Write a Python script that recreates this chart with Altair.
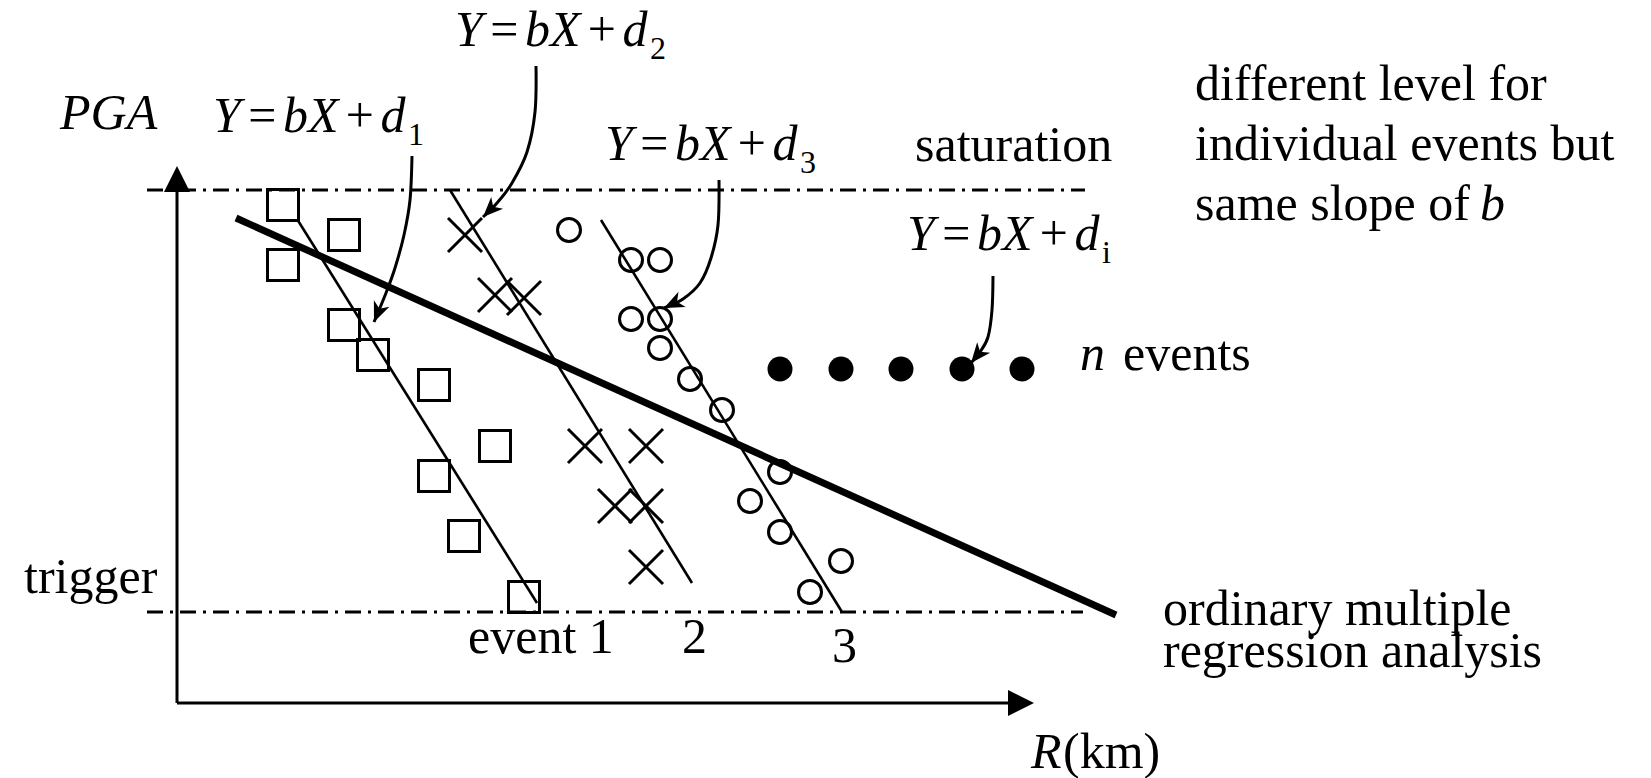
import math
import altair as alt
import pandas as pd

# Drawing frame of the schematic (x grows to the right, y grows downward)
FRAME_W, FRAME_H = 1651, 778

# Event 1 records (squares)
EV1_X = [283, 344, 283, 344, 373, 434, 495, 434, 464, 524]
EV1_Y = [205, 235, 265, 325, 355, 385, 446, 476, 536, 597]
# Event 2 records (crosses)
EV2_X = [465, 495, 524, 585, 646, 615, 646, 646]
EV2_Y = [235, 295, 298, 446, 446, 506, 506, 567]
# Event 3 records (circles)
EV3_X = [569, 631, 660, 631, 660, 660, 690, 722, 780, 750, 780, 841, 810]
EV3_Y = [230, 260, 260, 319, 319, 348, 379, 410, 472, 501, 532, 561, 592]
# Further events (filled dots)
MORE_X = [780, 841, 901, 962, 1022]
MORE_Y = [369, 369, 369, 369, 369]

# Per-event fits with a common slope b
FIT_X0 = [297, 450, 601]
FIT_Y0 = [219, 190, 220]
FIT_X1 = [537, 692, 842]
FIT_Y1 = [603, 583, 612]
# Ordinary multiple regression line
REG_X = [236, 1116]
REG_Y = [218, 615]

# Saturation and trigger levels
LEVEL_NAMES = ["saturation", "trigger"]
LEVEL_Y = [190, 612]
LEVEL_X0 = [147, 147]
LEVEL_X1 = [1085, 1083]

# Axes (origin and arrow tips)
ORIGIN = (177, 703)
Y_TIP = 166
X_TIP = 1034

# Curved pointers from the equations to their data
POINTER_D1 = [(412, 156), (410, 200), (404, 235), (395, 268), (386, 293), (374, 322)]
POINTER_D2 = [(536, 66), (535, 112), (527, 152), (512, 183), (497, 203), (483, 217)]
POINTER_D3 = [(719, 180), (718, 225), (711, 258), (700, 283), (683, 299), (664, 308)]
POINTER_DI = [(993, 276), (992, 310), (988, 337), (980, 352), (971, 363)]

EQUATION = "Y\u200a=\u200abX\u200a+\u200ad"
EQ_X = [213, 455, 605, 907]
EQ_Y = [132, 46, 160, 250]
EQ_SUB = ["1", "2", "3", "i"]
SUB_DX = 195
SUB_DY = 13

UPRIGHT_TEXT = ["saturation", "different level for", "individual events but",
                "same slope of", "events", "trigger", "event 1", "2", "3",
                "ordinary multiple", "regression analysis", "(km)"]
UPRIGHT_X = [915, 1195, 1195, 1195, 1123, 24, 468, 682, 832, 1163, 1163, 1063]
UPRIGHT_Y = [161, 100, 160, 220, 370, 593, 653, 653, 662, 625, 667, 768]

ITALIC_TEXT = ["PGA", "n", "b", "R"]
ITALIC_X = [60, 1080, 1480, 1031]
ITALIC_Y = [129, 370, 220, 768]

FONT = "Liberation Serif"

xs = alt.Scale(domain=[0, FRAME_W], nice=False, zero=False)
ys = alt.Scale(domain=[FRAME_H, 0], nice=False, zero=False)


def pos(xf="x", yf="y"):
    return dict(x=alt.X(f"{xf}:Q", scale=xs, axis=None),
                y=alt.Y(f"{yf}:Q", scale=ys, axis=None))


def seg():
    return dict(x=alt.X("x:Q", scale=xs, axis=None),
                y=alt.Y("y:Q", scale=ys, axis=None),
                x2=alt.X2("x2:Q"), y2=alt.Y2("y2:Q"))


# straight segments
fits = pd.DataFrame({"x": FIT_X0, "y": FIT_Y0, "x2": FIT_X1, "y2": FIT_Y1})
reg = pd.DataFrame({"x": [REG_X[0]], "y": [REG_Y[0]], "x2": [REG_X[1]], "y2": [REG_Y[1]]})
levels = pd.DataFrame({"name": LEVEL_NAMES, "x": LEVEL_X0, "x2": LEVEL_X1,
                       "y": LEVEL_Y, "y2": LEVEL_Y})
axes = pd.DataFrame({
    "x": [ORIGIN[0], ORIGIN[0]],
    "y": [ORIGIN[1], ORIGIN[1]],
    "x2": [ORIGIN[0], X_TIP - 12],
    "y2": [Y_TIP + 12, ORIGIN[1]],
})

fit_layer = alt.Chart(fits).mark_rule(color="black", strokeWidth=2.6).encode(**seg())
reg_layer = alt.Chart(reg).mark_rule(color="black", strokeWidth=7).encode(**seg())
level_layer = alt.Chart(levels).mark_rule(
    color="black", strokeWidth=3, strokeDash=[16, 7, 3, 7]
).encode(**seg())
axis_layer = alt.Chart(axes).mark_rule(color="black", strokeWidth=3).encode(**seg())

axis_heads = pd.DataFrame({"x": [ORIGIN[0], X_TIP], "y": [Y_TIP, ORIGIN[1]], "angle": [0, 90]})
axis_head_layer = alt.Chart(axis_heads).mark_point(
    shape="M0,0L-0.5,1L0.5,1Z", filled=True, color="black", opacity=1, size=2704
).encode(**pos(), angle=alt.Angle("angle:Q", scale=None))

# curved pointers
rows, heads = [], []
for name, pts in [("d1", POINTER_D1), ("d2", POINTER_D2), ("d3", POINTER_D3), ("di", POINTER_DI)]:
    for i, (px, py) in enumerate(pts):
        rows.append({"pointer": name, "order": i, "x": px, "y": py})
    (ax, ay), (bx, by) = pts[-2], pts[-1]
    ang = math.degrees(math.atan2(bx - ax, -(by - ay))) % 360
    heads.append({"x": bx, "y": by, "angle": ang})
pointers = pd.DataFrame(rows)
pointer_heads = pd.DataFrame(heads)

pointer_layer = alt.Chart(pointers).mark_line(
    color="black", strokeWidth=3, interpolate="cardinal"
).encode(**pos(), detail="pointer:N", order="order:Q")
pointer_head_layer = alt.Chart(pointer_heads).mark_point(
    shape="M0,0L-0.42,1L0,0.72L0.42,1Z", filled=True, color="black", opacity=1, size=1600
).encode(**pos(), angle=alt.Angle("angle:Q", scale=None))

# observations
ev1 = pd.DataFrame({"x": EV1_X, "y": EV1_Y})
ev2 = pd.DataFrame({"x": EV2_X, "y": EV2_Y})
ev3 = pd.DataFrame({"x": EV3_X, "y": EV3_Y})
more = pd.DataFrame({"x": MORE_X, "y": MORE_Y})

ev1_layer = alt.Chart(ev1).mark_point(
    shape="square", size=961, filled=False, color="black", strokeWidth=3, opacity=1
).encode(**pos())
ev2_layer = alt.Chart(ev2).mark_point(
    shape="M-1,-1L1,1M-1,1L1,-1", size=1156, filled=False, color="black", strokeWidth=3, opacity=1
).encode(**pos())
ev3_layer = alt.Chart(ev3).mark_point(
    shape="circle", size=529, filled=False, color="black", strokeWidth=3, opacity=1
).encode(**pos())
more_layer = alt.Chart(more).mark_point(
    shape="circle", size=625, filled=True, color="black", opacity=1
).encode(**pos())

# text
upright = pd.DataFrame({"t": UPRIGHT_TEXT, "x": UPRIGHT_X, "y": UPRIGHT_Y})
italic = pd.DataFrame({"t": ITALIC_TEXT + [EQUATION] * len(EQ_X),
                       "x": ITALIC_X + EQ_X, "y": ITALIC_Y + EQ_Y})
subs = pd.DataFrame({"t": EQ_SUB, "x": [v + SUB_DX for v in EQ_X],
                     "y": [v + SUB_DY for v in EQ_Y]})

text_kw = dict(align="left", baseline="alphabetic", font=FONT, color="black")
upright_layer = alt.Chart(upright).mark_text(fontSize=50, **text_kw).encode(**pos(), text="t:N")
italic_layer = alt.Chart(italic).mark_text(fontSize=50, fontStyle="italic", **text_kw).encode(**pos(), text="t:N")
sub_layer = alt.Chart(subs).mark_text(fontSize=32, **text_kw).encode(**pos(), text="t:N")

chart = alt.layer(
    level_layer, axis_layer, axis_head_layer, fit_layer, reg_layer,
    pointer_layer, pointer_head_layer,
    ev1_layer, ev2_layer, ev3_layer, more_layer,
    upright_layer, italic_layer, sub_layer,
).properties(
    width=FRAME_W, height=FRAME_H, padding=0,
    autosize=alt.AutoSizeParams(type="none"),
    background="white",
).configure_view(strokeOpacity=0)

chart.save("out.html", embed_options={"renderer": "svg", "actions": False})
